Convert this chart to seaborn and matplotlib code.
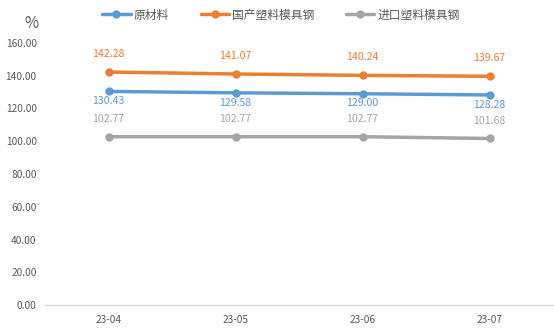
import matplotlib
matplotlib.use("Agg")
import matplotlib.pyplot as plt
import seaborn as sns
import pandas as pd
from matplotlib.lines import Line2D

months = ["23-04", "23-05", "23-06", "23-07"]
raw = [130.43, 129.58, 129.00, 128.28]
domestic = [142.28, 141.07, 140.24, 139.67]
imported = [102.77, 102.77, 102.77, 101.68]
series_names = ["原材料", "国产塑料模具钢", "进口塑料模具钢"]
yticks = [0, 20, 40, 60, 80, 100, 120, 140, 160]

sns.set_theme(style="white")
plt.rcParams['font.family'] = ['Noto Sans CJK SC', 'DejaVu Sans']

df = pd.DataFrame({
    "month": months * 3,
    "value": raw + domestic + imported,
    "series": [series_names[0]] * 4 + [series_names[1]] * 4 + [series_names[2]] * 4,
})
df["x"] = list(range(4)) * 3

colors = {series_names[0]: "#5B9BD5", series_names[1]: "#ED7D31", series_names[2]: "#A5A5A5"}

fig = plt.figure(figsize=(5.54, 3.33), dpi=100)
ax = fig.add_axes([45 / 554, 1 - 305 / 333, 508 / 554, (305 - 43) / 333])

sns.lineplot(data=df, x="x", y="value", hue="series", palette=colors, marker="o",
             markersize=6, markeredgewidth=0, linewidth=2.5, ax=ax, legend=False)

ax.set_xlim(-0.5, 3.5)
ax.set_ylim(0, 160)
ax.set_xticks(range(4))
ax.set_xticklabels(months)
ax.set_yticks(yticks)
ax.set_yticklabels([f"{v:.2f}" for v in yticks])
ax.tick_params(axis="both", labelsize=7.3, colors="#595959", length=0)
ax.tick_params(axis="y", pad=6)
ax.tick_params(axis="x", pad=7)
ax.set_xlabel("")
ax.set_ylabel("")
for s in ["top", "right", "left"]:
    ax.spines[s].set_visible(False)
ax.spines["bottom"].set_color("#D9D9D9")
ax.spines["bottom"].set_linewidth(1)

offsets = {series_names[0]: -7, series_names[1]: 13, series_names[2]: 12.5}
label_colors = {series_names[0]: "#5B9BD5", series_names[1]: "#ED7D31", series_names[2]: "#A5A5A5"}
for name, vals in zip(series_names, [raw, domestic, imported]):
    for i, v in enumerate(vals):
        ax.annotate(f"{v:.2f}", (i, v), xytext=(0, offsets[name]), textcoords="offset points",
                    ha="center", va="center", fontsize=7.6, color=label_colors[name])

fig.text(31 / 554, 1 - 23 / 333, "%", fontsize=11, color="#595959", ha="center", va="center")

handles = [Line2D([0], [0], color=colors[n], lw=2.5, marker="o", markersize=6, markeredgewidth=0) for n in series_names]
fig.legend(handles, series_names, loc="center", bbox_to_anchor=(281 / 554, 1 - 15 / 333), ncol=3,
           frameon=False, fontsize=8.5, handlelength=2.4, columnspacing=2.7, handletextpad=0.25,
           labelcolor="#595959")

fig.savefig("out.png", dpi=100)
